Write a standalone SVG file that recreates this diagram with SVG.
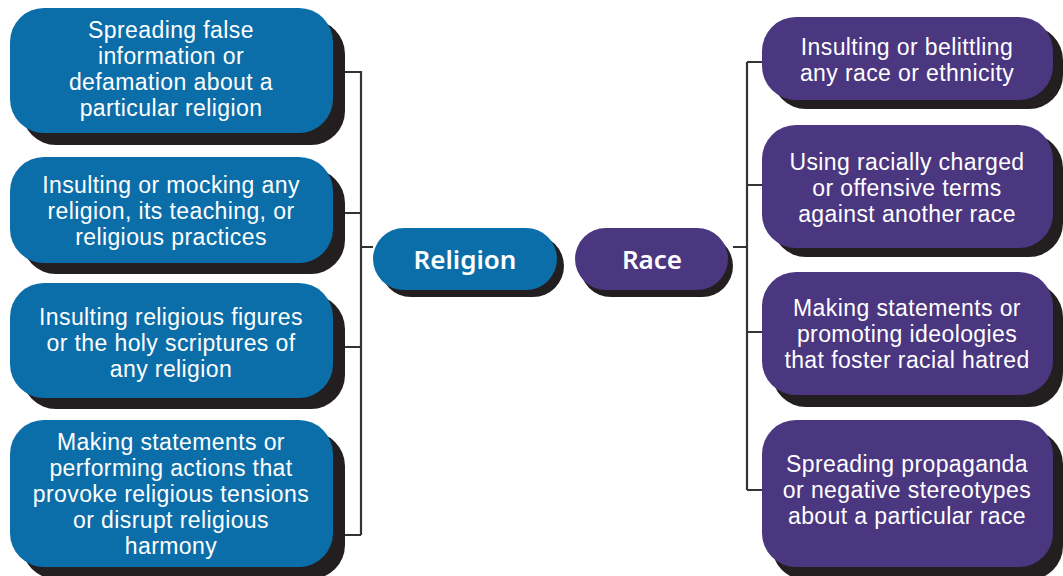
<svg xmlns="http://www.w3.org/2000/svg" width="1063" height="576" viewBox="0 0 1063 576">
<style>
.sh{fill:#231f20}
.bl{fill:#0b6ea9}
.pu{fill:#4b3680}
.t{font-family:"Liberation Sans",Arial,sans-serif;font-size:23px;letter-spacing:0.4px;fill:#fff;text-anchor:middle}
.h{font-family:"Noto Sans","Liberation Sans",sans-serif;font-size:26px;font-weight:600;fill:#fff;text-anchor:middle}
.c{stroke:#333;stroke-width:2.2;fill:none}
</style>
<g id="connectors">
<path class="c" d="M345 72H361V535M345 213H361M345 347H361M345 535H361M361 247H373"/>
<path class="c" d="M733 247H747M747 62V490M747 62H762M747 185H762M747 332H762M747 490H762"/>
</g>
<g id="rel1"><rect class="sh" x="22" y="20" width="323" height="125" rx="34"/><rect class="bl" x="10" y="8" width="323" height="125" rx="34"/>
<text class="t" x="171" y="38">Spreading false</text><text class="t" x="171" y="64">information or</text><text class="t" x="171" y="90">defamation about a</text><text class="t" x="171" y="116">particular religion</text></g>
<g id="rel2"><rect class="sh" x="22" y="169" width="323" height="105" rx="34"/><rect class="bl" x="10" y="157" width="323" height="106" rx="34"/>
<text class="t" x="171" y="193">Insulting or mocking any</text><text class="t" x="171" y="219">religion, its teaching, or</text><text class="t" x="171" y="245">religious practices</text></g>
<g id="rel3"><rect class="sh" x="22" y="295" width="323" height="114" rx="34"/><rect class="bl" x="10" y="283" width="323" height="115" rx="34"/>
<text class="t" x="171" y="325">Insulting religious figures</text><text class="t" x="171" y="351">or the holy scriptures of</text><text class="t" x="171" y="377">any religion</text></g>
<g id="rel4"><rect class="sh" x="22" y="432" width="323" height="147" rx="34"/><rect class="bl" x="10" y="420" width="323" height="147" rx="34"/>
<text class="t" x="171" y="450">Making statements or</text><text class="t" x="171" y="476">performing actions that</text><text class="t" x="171" y="502">provoke religious tensions</text><text class="t" x="171" y="528">or disrupt religious</text><text class="t" x="171" y="554">harmony</text></g>
<g id="religion"><rect class="sh" x="380" y="235" width="184" height="62" rx="31"/><rect class="bl" x="373" y="228" width="184" height="62" rx="31"/><text class="h" x="465" y="269">Religion</text></g>
<g id="race"><rect class="sh" x="580" y="235" width="153" height="62" rx="31"/><rect class="pu" x="575" y="228" width="153" height="62" rx="31"/><text class="h" x="652" y="269">Race</text></g>
<g id="race1"><rect class="sh" x="772" y="26" width="291" height="83" rx="34"/><rect class="pu" x="762" y="17" width="291" height="83" rx="34"/>
<text class="t" x="907" y="55">Insulting or belittling</text><text class="t" x="907" y="81">any race or ethnicity</text></g>
<g id="race2"><rect class="sh" x="772" y="134" width="291" height="123" rx="34"/><rect class="pu" x="762" y="125" width="291" height="123" rx="34"/>
<text class="t" x="907" y="170">Using racially charged</text><text class="t" x="907" y="196">or offensive terms</text><text class="t" x="907" y="222">against another race</text></g>
<g id="race3"><rect class="sh" x="772" y="283" width="291" height="124" rx="34"/><rect class="pu" x="762" y="272" width="291" height="123" rx="34"/>
<text class="t" x="907" y="316">Making statements or</text><text class="t" x="907" y="342">promoting ideologies</text><text class="t" x="907" y="368">that foster racial hatred</text></g>
<g id="race4"><rect class="sh" x="772" y="430" width="291" height="150" rx="34"/><rect class="pu" x="762" y="420" width="291" height="147" rx="34"/>
<text class="t" x="907" y="472">Spreading propaganda</text><text class="t" x="907" y="498">or negative stereotypes</text><text class="t" x="907" y="524">about a particular race</text></g>
</svg>
